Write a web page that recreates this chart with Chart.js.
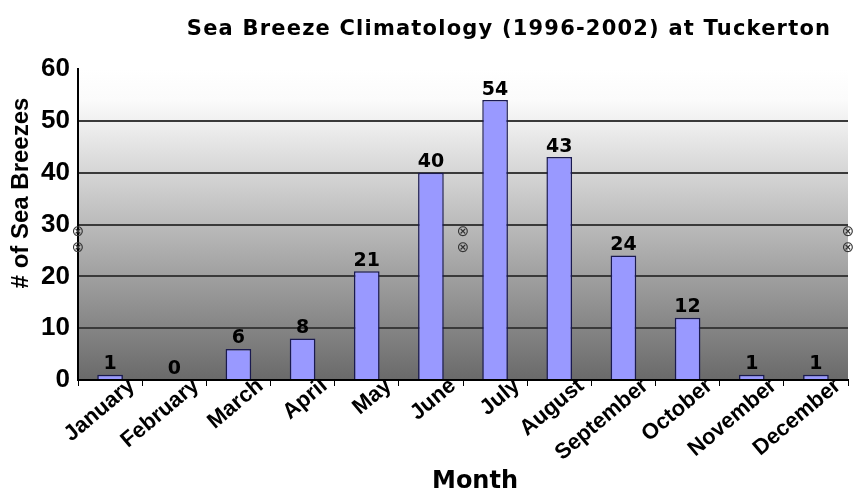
<!DOCTYPE html>
<html><head><meta charset="utf-8">
<script src="https://cdn.jsdelivr.net/npm/chart.js@4"></script>
<style>html,body{margin:0;padding:0;background:#fff}#wrap{width:854px;height:495px}</style>
</head><body><div id="wrap"><canvas id="c" width="854" height="495"></canvas></div>
<script>
const months = ["January","February","March","April","May","June","July","August","September","October","November","December"];
const seaBreezes = [1,0,6,8,21,40,54,43,24,12,1,1];
const yTicks = [0,10,20,30,40,50,60];
const chartTitle = "Sea Breeze Climatology (1996-2002) at Tuckerton";
const yTitle = "# of Sea Breezes";
const xTitle = "Month";
const breakMarks = [28.6, 25.5];

const decor = {
  id:'decor',
  beforeDraw(chart){
    const {ctx, chartArea:a} = chart;
    const g = ctx.createLinearGradient(0,a.top,0,a.bottom);
    g.addColorStop(0,'#ffffff');
    g.addColorStop(0.1,'#fbfbfb');
    g.addColorStop(1,'#6a6a6a');
    ctx.save(); ctx.fillStyle=g; ctx.fillRect(a.left,a.top,a.right-a.left,a.bottom-a.top); ctx.restore();
  },
  afterDatasetsDraw(chart){
    const {ctx, chartArea:a, scales} = chart;
    ctx.save();
    ctx.fillStyle='#000';
    ctx.textAlign='center'; ctx.textBaseline='bottom';
    ctx.font='bold 19px "DejaVu Sans"';
    const meta = chart.getDatasetMeta(0);
    meta.data.forEach((el,i)=>{ ctx.fillText(String(seaBreezes[i]), el.x, el.y-1); });
    // titles
    ctx.save();
    ctx.font='bold 21px "DejaVu Sans"';
    ctx.letterSpacing='1.2px';
    ctx.textBaseline='middle';
    ctx.fillText(chartTitle, 509, 30);
    ctx.restore();
    ctx.textBaseline='middle';
    ctx.font='bold 24px "DejaVu Sans"';
    ctx.fillText(xTitle, 475, 482);
    ctx.save(); ctx.translate(21, 193); ctx.rotate(-Math.PI/2);
    ctx.font='bold 24px "Liberation Sans"';
    ctx.fillText(yTitle, 0, 0); ctx.restore();
    // break marks
    ctx.font='15px "DejaVu Sans"'; ctx.fillStyle='#333';
    const xs=[a.left,(a.left+a.right)/2,a.right];
    xs.forEach(x=>breakMarks.forEach(v=>ctx.fillText('\u2297', x, scales.y.getPixelForValue(v))));
    ctx.restore();
  }
};

new Chart(document.getElementById('c'),{
  type:'bar',
  data:{labels:months,datasets:[{data:seaBreezes,backgroundColor:'#9999ff',borderColor:'#1a1a50',borderWidth:1.5,barPercentage:0.4,categoryPercentage:1}]},
  options:{
    responsive:false,animation:false,
    layout:{padding:{top:69,left:30,right:6,bottom:20}},
    plugins:{legend:{display:false},title:{display:false},tooltip:{enabled:false}},
    scales:{
      x:{
        grid:{display:true,drawOnChartArea:false,drawTicks:true,tickLength:6,color:'#000',offset:true},
        border:{color:'#000',width:2},
        ticks:{color:'#000',font:{family:'Liberation Sans',weight:'bold',size:22},minRotation:40,maxRotation:40,labelOffset:22,autoSkip:false,padding:-13},
        afterFit(s){s.height=495-380-20;}
      },
      y:{
        min:0,max:60,
        afterBuildTicks(s){s.ticks=yTicks.map(v=>({value:v}));},
        grid:{color:(c)=>(c.tick&&c.tick.value>0&&c.tick.value<60)?'#3a3a3a':'rgba(0,0,0,0)',lineWidth:2,drawTicks:false},
        border:{color:'#000',width:2},
        ticks:{color:'#000',font:{family:'Liberation Sans',weight:'bold',size:26},padding:8},
        afterFit(s){s.width=78-30;}
      }
    }
  },
  plugins:[decor]
});
</script></body></html>
